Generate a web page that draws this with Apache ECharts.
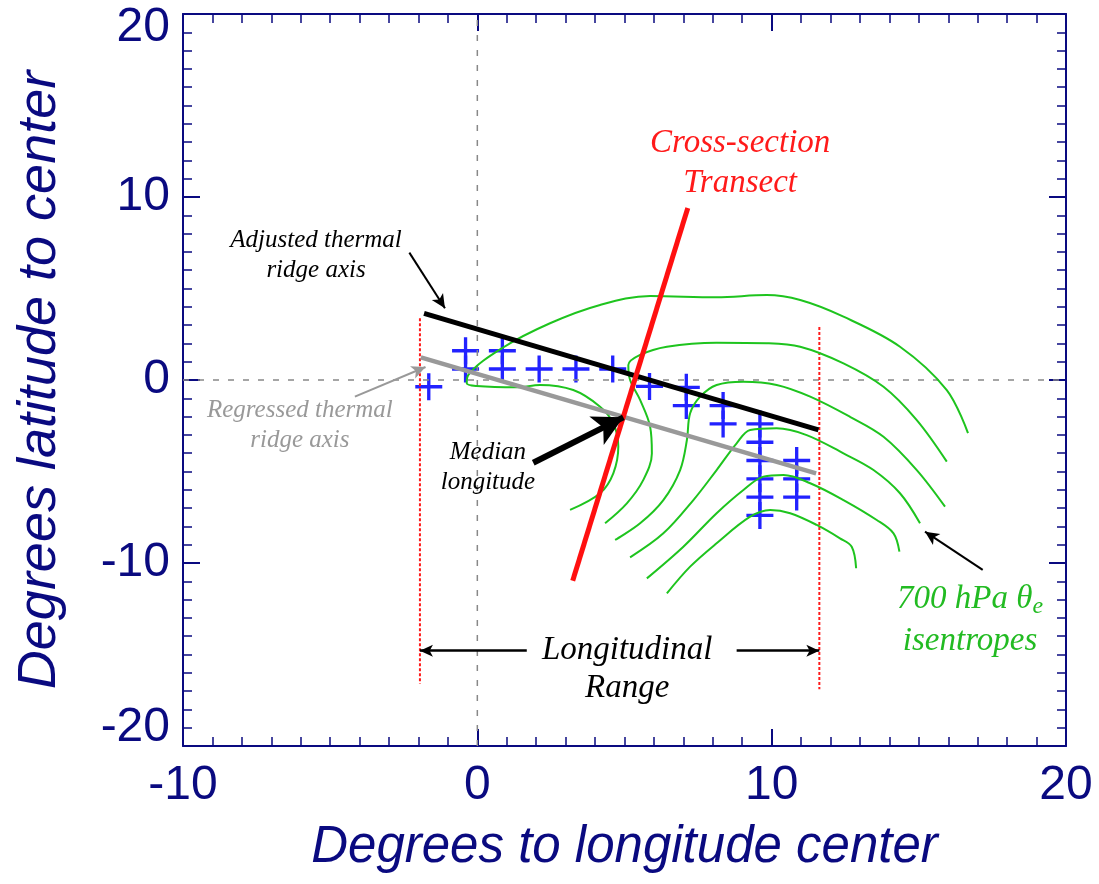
<!DOCTYPE html>
<html><head><meta charset="utf-8">
<script src="https://cdn.jsdelivr.net/npm/echarts@6/dist/echarts.min.js"></script>
<style>html,body{margin:0;padding:0;background:#fff}#c{width:1099px;height:884px}</style>
</head><body><div id="c"></div>
<script>
// ---------- data (degrees) ----------
const xRange = [-10, 20];
const yRange = [-20, 20];
const tickInterval = 10;

const ridgePoints = [
  [-1.65,-0.37],[-0.4,1.6],[-0.4,0.6],[0.85,1.6],[0.85,0.6],[2.1,0.6],[3.35,0.6],[4.6,0.6],
  [5.85,-0.35],[7.1,-0.4],[7.1,-1.4],[8.35,-1.4],[8.35,-2.4],
  [9.6,-2.4],[9.6,-3.4],[9.6,-4.4],[9.6,-5.4],[9.6,-6.4],[9.6,-7.4],
  [10.85,-4.4],[10.85,-5.4],[10.85,-6.4]
];

const isentropeA = [[16.67,-2.90],[15.95,-0.55],[14.36,1.82],[12.44,3.46],[10.97,4.37],[9.83,4.64],[8.13,4.52],[5.87,4.59],[4.17,4.10],[2.47,3.10],[0.85,1.75],[-0.31,0.27],[-0.36,-0.18],[-0.02,-0.33],[1.34,-0.40],[2.13,-0.27],[3.26,-0.55],[4.17,-1.46],[4.62,-2.37],[4.79,-3.64],[4.62,-5.10],[4.17,-6.19],[3.15,-7.10]];
const isentropeB = [[15.95,-4.46],[14.93,-2.19],[13.80,-0.37],[12.44,0.91],[10.97,1.82],[9.83,2.01],[8.13,2.04],[6.44,1.82],[5.53,1.37],[5.13,0.82],[5.19,0],[5.53,-1.09],[5.87,-2.55],[5.93,-4.01],[5.64,-5.46],[5.08,-6.74],[4.34,-7.83]];
const isentropeC = [[15.89,-6.92],[14.93,-4.92],[13.80,-3.10],[12.66,-2.01],[11.31,-0.91],[10.17,-0.27],[9.04,-0.09],[8.13,-0.27],[7.57,-0.91],[7.23,-1.82],[7.12,-3.28],[6.89,-4.92],[6.32,-6.56],[5.53,-7.83],[4.68,-8.74]];
const isentropeD = [[15.04,-7.83],[14.36,-6.19],[13.46,-4.92],[12.44,-4.01],[11.19,-3.01],[10.17,-2.64],[9.27,-2.73],[8.81,-3.46],[8.13,-4.92],[7.34,-6.56],[6.32,-8.38],[5.19,-9.69]];
const isentropeE = [[14.34,-9.38],[14.14,-8.38],[13.57,-7.65],[12.44,-6.56],[11.31,-5.64],[10.40,-5.19],[9.72,-5.28],[9.04,-6.01],[8.13,-7.28],[7.00,-9.11],[5.76,-10.84]];
const isentropeF = [[12.87,-10.29],[12.72,-9.11],[12.32,-8.65],[11.53,-7.92],[10.63,-7.28],[9.95,-7.10],[9.27,-7.47],[8.13,-8.92],[7.23,-10.20],[6.44,-11.66]];
const isentropes = [isentropeA, isentropeB, isentropeC, isentropeD, isentropeE, isentropeF];

const adjustedAxis  = [[-1.81,3.64],[11.59,-2.73]];
const regressedAxis = [[-1.92,1.24],[11.51,-5.10]];
const transect      = [[3.24,-10.97],[7.15,9.40]];
const rangeWest     = [[-1.95,3.37],[-1.95,-16.6]];
const rangeEast     = [[11.62,2.90],[11.62,-16.9]];
const zeroLon       = [[0,-20],[0,20]];
const zeroLat       = [[-10,0],[20,0]];

// annotation arrows [from, to]
const arrowAdjusted  = [[-2.31,6.96],[-1.10,3.92]];
const arrowRegressed = [[-4.16,-0.91],[-1.76,0.71]];
const arrowMedian    = [[1.90,-4.52],[4.96,-2.04]];
const arrowIsentrope = [[17.17,-10.38],[15.21,-8.29]];
const arrowRangeW    = [[1.68,-14.79],[-1.95,-14.79]];
const arrowRangeE    = [[8.81,-14.79],[11.62,-14.79]];

// annotation labels (anchor in degrees)
const labels = [
  {text:'Cross-section\nTransect', at:[8.93,11.86], color:'#ff1a1a', size:33, lh:40},
  {text:'Adjusted thermal\nridge axis', at:[-5.48,6.83], color:'#000000', size:25, lh:30},
  {text:'Regressed thermal\nridge axis', at:[-6.03,-2.46], color:'#999999', size:25, lh:30},
  {text:'Median\nlongitude', at:[0.36,-4.75], color:'#000000', size:25, lh:30},
  {text:'Longitudinal\nRange', at:[5.09,-15.79], color:'#000000', size:33, lh:38},
  {text:'700 hPa θ{sub|e}\nisentropes', at:[16.74,-13.11], color:'#22bb22', size:33, lh:42}
];

// ---------- chart ----------
const NAVY = '#0a0a80';
const GREEN = '#1ec41e';
const chart = echarts.init(document.getElementById('c'), null, {renderer:'canvas'});

function axisCommon(extra){
  return Object.assign({
    type:'value', scale:false, interval:tickInterval,
    axisLine:{show:true, onZero:false, lineStyle:{color:NAVY, width:2}},
    axisTick:{show:true, inside:true, length:17, lineStyle:{color:NAVY, width:2}},
    minorTick:{show:true, splitNumber:10, length:9, lineStyle:{color:NAVY, width:1.5}},
    splitLine:{show:false}, minorSplitLine:{show:false}
  }, extra);
}

function lineSeries(data, color, width, extra){
  return Object.assign({
    type:'line', data:data, showSymbol:false, symbol:'none', silent:true,
    xAxisIndex:0, yAxisIndex:0,
    lineStyle:{color:color, width:width}, animation:false
  }, extra || {});
}

function arrowSeries(pairs, color, width, size){
  return {
    type:'line', data:[], xAxisIndex:0, yAxisIndex:0, silent:true, animation:false,
    markLine:{
      silent:true, animation:false, symbol:['none','arrow'], symbolSize:size,
      label:{show:false}, emphasis:{disabled:true},
      lineStyle:{color:color, width:width, type:'solid'},
      data: pairs.map(p => [{coord:p[0]},{coord:p[1]}])
    }
  };
}

const series = [
  lineSeries(zeroLon, '#888888', 1.5, {lineStyle:{color:'#888888', width:1.5, type:[6,9]}}),
  lineSeries(zeroLat, '#888888', 1.5, {lineStyle:{color:'#888888', width:1.5, type:[6,9]}}),
  lineSeries(rangeWest, '#ff1a1a', 2, {lineStyle:{color:'#ff1a1a', width:2, type:[3,2]}}),
  lineSeries(rangeEast, '#ff1a1a', 2, {lineStyle:{color:'#ff1a1a', width:2, type:[3,2]}})
];
isentropes.forEach(c => series.push(lineSeries(c, GREEN, 2, {smooth:0.35})));
series.push({
  type:'scatter', data:ridgePoints, xAxisIndex:0, yAxisIndex:0, silent:true, animation:false,
  symbol:'path://M0,11.4H26V14.6H0ZM11.4,0H14.6V26H11.4Z', symbolSize:27,
  itemStyle:{color:'#2222ff', opacity:1}
});
series.push(lineSeries(regressedAxis, '#999999', 4.5));
series.push(lineSeries(adjustedAxis, '#000000', 5));
series.push(lineSeries(transect, '#ff1010', 5));
series.push(arrowSeries([arrowAdjusted], '#000000', 2, [10,14]));
series.push(arrowSeries([arrowRegressed], '#999999', 2, [10,14]));
series.push(arrowSeries([arrowIsentrope], '#000000', 2, [10,14]));
series.push(arrowSeries([arrowRangeW, arrowRangeE], '#000000', 2.5, [9,13]));
series.push(arrowSeries([arrowMedian], '#000000', 6, [24,30]));

const option = {
  backgroundColor:'#ffffff',
  animation:false,
  grid:{left:183, top:14, right:33, bottom:138, containLabel:false, outerBoundsMode:'none'},
  xAxis:[
    axisCommon({position:'bottom', min:xRange[0], max:xRange[1],
      axisLabel:{show:true, color:NAVY, fontSize:48, fontFamily:'Liberation Sans', margin:16},
      name:'Degrees to longitude center', nameLocation:'middle', nameGap:76,
      nameTextStyle:{color:NAVY, fontSize:51, fontStyle:'italic', fontFamily:'Liberation Sans'}}),
    axisCommon({position:'top', min:xRange[0], max:xRange[1], axisLabel:{show:false}})
  ],
  yAxis:[
    axisCommon({position:'left', min:yRange[0], max:yRange[1],
      axisLabel:{show:true, color:NAVY, fontSize:48, fontFamily:'Liberation Sans', margin:13,
        formatter: v => v === yRange[1] ? '{hi|' + v + '}' : (v === yRange[0] ? '{lo|' + v + '}' : String(v)),
        rich:{
          hi:{color:NAVY, fontSize:48, fontFamily:'Liberation Sans', padding:[28,0,0,0]},
          lo:{color:NAVY, fontSize:48, fontFamily:'Liberation Sans', padding:[0,0,36,0]}
        }},
      name:'Degrees latitude to center', nameLocation:'middle', nameGap:116,
      nameTextStyle:{color:NAVY, fontSize:54, fontStyle:'italic', fontFamily:'Liberation Sans'}}),
    axisCommon({position:'right', min:yRange[0], max:yRange[1], axisLabel:{show:false}})
  ],
  series: series
};
chart.setOption(option);

// annotations placed through the chart's own coordinate conversion
const graphics = labels.map(l => {
  const p = chart.convertToPixel({xAxisIndex:0, yAxisIndex:0}, l.at);
  return {
    type:'text', x:p[0], y:p[1], silent:true, z:100,
    style:{
      text:l.text, fill:l.color, fontSize:l.size, fontStyle:'italic',
      fontFamily:'Liberation Serif', align:'center', verticalAlign:'middle', lineHeight:l.lh,
      rich:{sub:{fontSize:Math.round(l.size*0.72), fontStyle:'italic', fontFamily:'Liberation Serif',
        fill:l.color, padding:[16,0,0,0]}}
    }
  };
});
chart.setOption({graphic:graphics});
</script>
</body></html>
